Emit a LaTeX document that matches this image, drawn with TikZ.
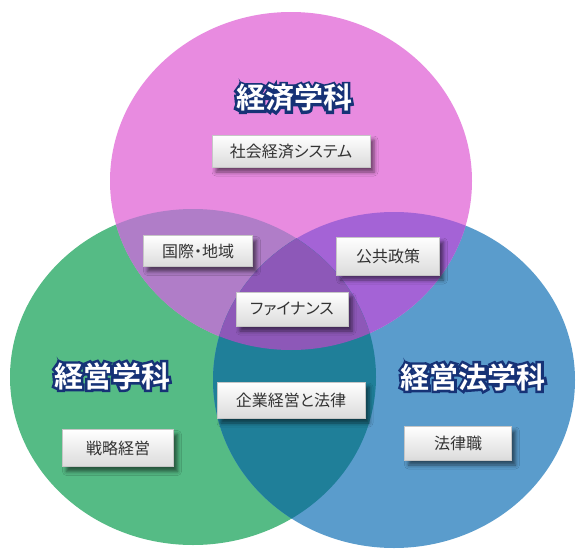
\documentclass[tikz,border=0pt]{standalone}
\usepackage{fontspec}
\setmainfont{Noto Sans CJK JP}[RawFeature=+palt]
\newfontfamily\titlefont{Noto Sans CJK JP Bold}
\newfontfamily\titleoutline[FakeBold=17]{Noto Sans CJK JP Bold}
\usetikzlibrary{shadows.blur}
\definecolor{pk}{RGB}{232,139,224}
\definecolor{gr}{RGB}{85,187,133}
\definecolor{bl}{RGB}{90,156,204}
\definecolor{pg}{RGB}{176,125,200}
\definecolor{pb}{RGB}{164,99,214}
\definecolor{gb}{RGB}{31,127,153}
\definecolor{pgb}{RGB}{141,88,184}
\definecolor{navy}{RGB}{22,50,118}
\newcommand\Pell{(291,181) ellipse [x radius=181pt, y radius=169pt]}
\newcommand\Gell{(193,377) ellipse [x radius=183pt, y radius=168pt]}
\newcommand\Bell{(394,380) ellipse [x radius=181pt, y radius=168pt]}
\newcommand\ttl[1]{\makebox[0pt][l]{\titleoutline\color{navy}#1}{\titlefont\color{white}#1}}
\tikzset{
  tag/.style={draw=gray!45, line width=0.4pt, top color=white, bottom color=gray!28,
    text=black!80, font=\fontsize{16}{16}\selectfont, inner sep=0pt,
    blur shadow={shadow xshift=4pt, shadow yshift=-5pt, shadow blur radius=4pt, shadow opacity=55}},
  heading/.style={inner sep=0pt, font=\fontsize{29}{29}\selectfont}
}
\begin{document}
\begin{tikzpicture}[x=1pt,y=-1pt]
\useasboundingbox (0,0) rectangle (576,552);
\fill[white] (0,0) rectangle (576,552);
% base circles
\fill[gr] \Gell;
\fill[bl] \Bell;
\fill[pk] \Pell;
% overlaps
\begin{scope}\clip \Pell; \fill[pg] \Gell; \end{scope}
\begin{scope}\clip \Pell; \fill[pb] \Bell; \end{scope}
\begin{scope}\clip \Gell; \fill[gb] \Bell; \end{scope}
\begin{scope}\clip \Pell; \clip \Gell; \fill[pgb] \Bell; \end{scope}
% headings
\node[heading] (keizai) at (294,98) {\ttl{経済学科}};
\node[heading] (keiei) at (112,376) {\ttl{経営学科}};
\node[heading] (hogaku) at (473,377) {\ttl{経営法学科}};
% tags
\node[tag, minimum width=158pt, minimum height=32pt] (shakai) at (291,151) {社会経済システム};
\node[tag, minimum width=109pt, minimum height=31pt] (kokusai) at (198,251) {国際・地域};
\node[tag, minimum width=103pt, minimum height=38pt] (kokyo) at (388,256) {公共政策};
\node[tag, minimum width=112pt, minimum height=34pt] (finance) at (292,309) {ファイナンス};
\node[tag, minimum width=148pt, minimum height=36pt] (kigyo) at (291,400) {企業経営と法律};
\node[tag, minimum width=111pt, minimum height=37pt] (senryaku) at (118,448) {戦略経営};
\node[tag, minimum width=107pt, minimum height=34pt] (horitsu) at (458,443) {法律職};
\end{tikzpicture}
\end{document}
